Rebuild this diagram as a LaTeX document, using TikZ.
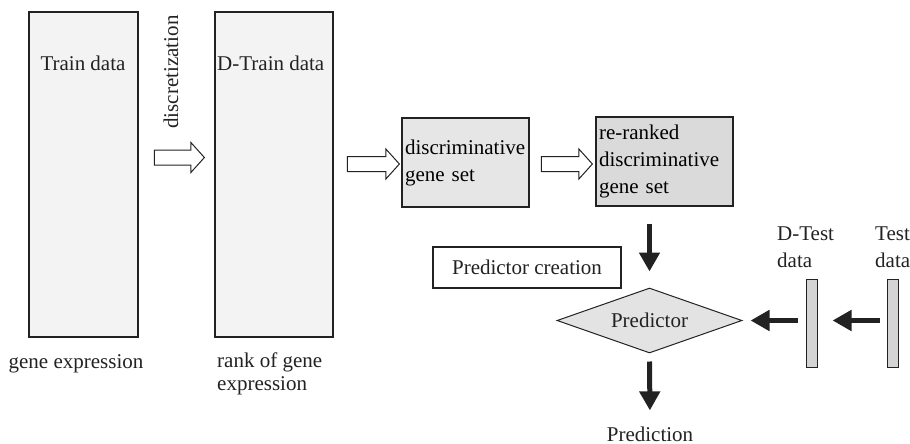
\documentclass[tikz,border=0pt]{standalone}
\usepackage{fontspec}
\setmainfont{Liberation Serif}
\usetikzlibrary{shapes.geometric,shapes.arrows,arrows.meta}

\definecolor{pale}{HTML}{F3F3F3}
\definecolor{setgray}{HTML}{E6E6E6}
\definecolor{rankgray}{HTML}{DADADA}
\definecolor{predgray}{HTML}{E3E3E3}
\definecolor{bargray}{HTML}{D4D4D4}
\definecolor{ink}{HTML}{222222}

\begin{document}
\begin{tikzpicture}[
        x=1pt, y=-1pt,
        font=\fontsize{21}{27}\selectfont,
        databox/.style={rectangle, draw=ink, line width=1.2pt, fill=pale, inner sep=0pt},
        setbox/.style={rectangle, draw=ink, line width=1.2pt, inner sep=3pt, align=left, minimum height=89pt},
        txt/.style={inner sep=0pt, text=ink},
        hollow/.style={single arrow, draw=ink, line width=1pt, fill=white, minimum width=29pt, single arrow head extend=7.5pt, single arrow tip angle=96, inner xsep=0pt, inner ysep=7pt},
        bar/.style={rectangle, draw=ink, line width=1pt, fill=bargray, minimum width=11pt, minimum height=88pt, inner sep=0pt},
        fat/.style={-{Triangle[width=20pt,length=19pt]}, line width=5pt, draw=ink}
    ]
    \useasboundingbox (0,0) rectangle (910,444);

    % training side
    \node[databox, minimum width=109pt, minimum height=325pt] (train) at (83.5,174.5) {};
    \node[databox, minimum width=118pt, minimum height=325pt] (dtrain) at (274,174.5) {};
    \node[txt] (traintxt) at (83,63) {Train data};
    \node[txt, anchor=west] (dtraintxt) at (217,63) {D-Train data};
    \node[txt] (geneexp) at (76,364) {gene expression};
    \node[txt, anchor=west, align=left] (rankexp) at (217,374) {rank of gene\\[-4pt]expression};
    \node[txt, rotate=90] (discr) at (171,72) {discretization};
    \node[hollow, minimum height=50pt] (arr1) at (176,157.5) {};

    % gene sets
    \node[setbox, fill=setgray, minimum width=127pt, text width=121pt] (disc) at (465.5,162.5) {discriminative\\gene set};
    \node[setbox, fill=rankgray, minimum width=137pt, text width=131pt] (rerank) at (664.5,161.5) {re-ranked\\discriminative\\gene set};
    \node[hollow, minimum height=52pt] (arr2) at (370,164) {};
    \node[hollow, minimum height=51pt] (arr3) at (563.5,164) {};

    % prediction
    \node[rectangle, draw=ink, line width=1.2pt, fill=white, minimum width=188pt, minimum height=41pt, text=ink] (create) at (527,267.5) {Predictor creation};
    \node[diamond, draw=ink, line width=1pt, fill=predgray, aspect=2.85, minimum width=185pt, minimum height=65pt, inner sep=0pt, text=ink] (pred) at (649.5,320.5) {Predictor};
    \node[txt] (result) at (650,434) {Prediction};

    % test side
    \node[bar] (dtest) at (811.5,323) {};
    \node[bar] (test) at (892.5,323) {};
    \node[txt, anchor=west, align=left] (dtesttxt) at (777,247) {D-Test\\data};
    \node[txt, anchor=west, align=left] (testtxt) at (875,247) {Test\\data};

    \draw[fat, shorten <=17pt, shorten >=16pt] (pred.north |- rerank.south) -- (pred.north);
    \draw[fat, shorten <=8pt, shorten >=16pt] (pred.south) -- (result.north);
    \draw[fat, shorten <=8pt, shorten >=8pt] (dtest.west |- pred.east) -- (pred.east);
    \draw[fat, shorten <=7pt, shorten >=15pt] (test.west |- pred.east) -- (dtest.east |- pred.east);

\end{tikzpicture}
\end{document}
